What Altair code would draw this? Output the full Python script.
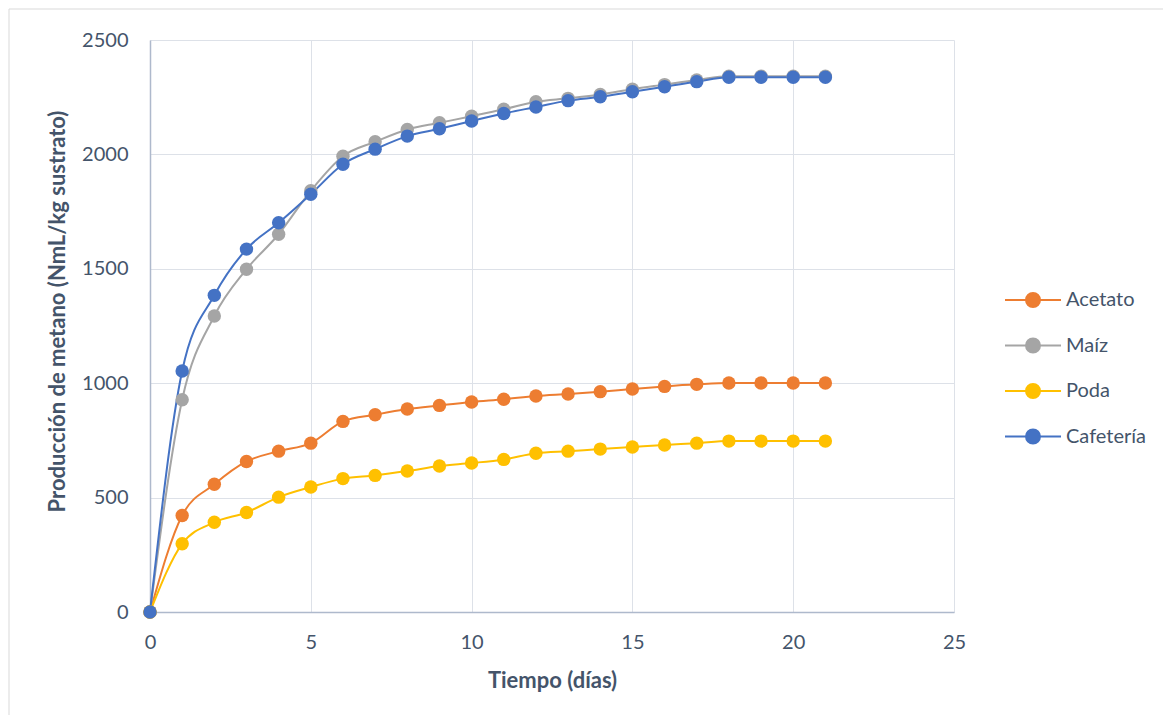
import altair as alt
import pandas as pd

days = list(range(22))
series_names = ["Acetato", "Maíz", "Poda", "Cafetería"]
colors = ["#ED7D31", "#A5A5A5", "#FFC000", "#4472C4"]

acetato = [0, 422, 558, 658, 703, 738, 833, 862, 887, 903, 918, 930, 944, 953, 963, 975, 986, 995, 1001, 1001, 1001, 1001]
maiz = [0, 928, 1294, 1498, 1651, 1841, 1992, 2055, 2109, 2138, 2167, 2197, 2230, 2245, 2262, 2285, 2305, 2325, 2342, 2342, 2342, 2342]
poda = [0, 298, 392, 435, 502, 546, 583, 597, 616, 638, 651, 667, 694, 703, 712, 721, 730, 738, 747, 747, 747, 747]
cafeteria = [0, 1053, 1384, 1586, 1701, 1826, 1957, 2023, 2080, 2112, 2146, 2179, 2207, 2235, 2252, 2274, 2296, 2318, 2337, 2337, 2337, 2337]

x_ticks = [0, 5, 10, 15, 20, 25]
y_ticks = [0, 500, 1000, 1500, 2000, 2500]

rows = []
for order, (name, vals) in enumerate(zip(series_names, [acetato, maiz, poda, cafeteria])):
    for d, v in zip(days, vals):
        rows.append({"dia": d, "valor": v, "serie": name, "orden": order})
df = pd.DataFrame(rows)

FONT = "Lato"
TXT = "#44546A"

color_scale = alt.Scale(domain=series_names, range=colors)
legend_path = "M-4,0L4,0M-1,0A1,1,0,1,1,1,0A1,1,0,1,1,-1,0Z"

xenc = alt.X("dia:Q", scale=alt.Scale(domain=[0, 25], nice=False),
             axis=alt.Axis(values=x_ticks, title="Tiempo (días)", labelPadding=20, titlePadding=18,
                           labelFlush=False, format="d"))
yenc = alt.Y("valor:Q", scale=alt.Scale(domain=[0, 2500], nice=False),
             axis=alt.Axis(values=y_ticks, title="Producción de metano (NmL/kg sustrato)",
                           labelPadding=22, titlePadding=12, titleY=271, format="d"))

base = alt.Chart(df)

lines = base.mark_line(strokeWidth=2, interpolate="monotone").encode(
    x=xenc, y=yenc,
    color=alt.Color("serie:N", scale=color_scale, sort=series_names,
                    legend=alt.Legend(title=None, orient="none", legendX=873, legendY=250,
                                      symbolType=legend_path, symbolSize=196, symbolStrokeWidth=2,
                                      labelOffset=23, rowPadding=23.5, labelFontSize=20,
                                      labelFont=FONT, labelColor=TXT)),
    detail="serie:N",
    order="orden:Q",
)

points = base.mark_circle(size=180, opacity=1).encode(
    x="dia:Q", y="valor:Q",
    color=alt.Color("serie:N", scale=color_scale, sort=series_names),
    order="orden:Q",
)

border = alt.Chart(alt.Data(values=[{}])).mark_rect(fill=None, stroke="#D9D9D9", strokeWidth=1).encode(
    x=alt.value(-141), x2=alt.value(1200), y=alt.value(-31), y2=alt.value(800)
)

chart = alt.layer(border, lines, points).properties(
    width=804, height=572,
    padding={"left": 142, "top": 32, "right": 209, "bottom": 103},
    autosize=alt.AutoSizeParams(type="none"),
).configure_view(stroke=None).configure_axis(
    grid=True, gridColor="#DDE1E8", gridWidth=1,
    domainColor="#AEB9CC", domainWidth=1.5, ticks=False,
    labelFont=FONT, labelFontSize=20, labelColor=TXT,
    titleFont=FONT, titleFontSize=22, titleFontWeight="bold", titleColor=TXT,
)

chart.save("out.html", embed_options={"renderer": "svg", "actions": False})
